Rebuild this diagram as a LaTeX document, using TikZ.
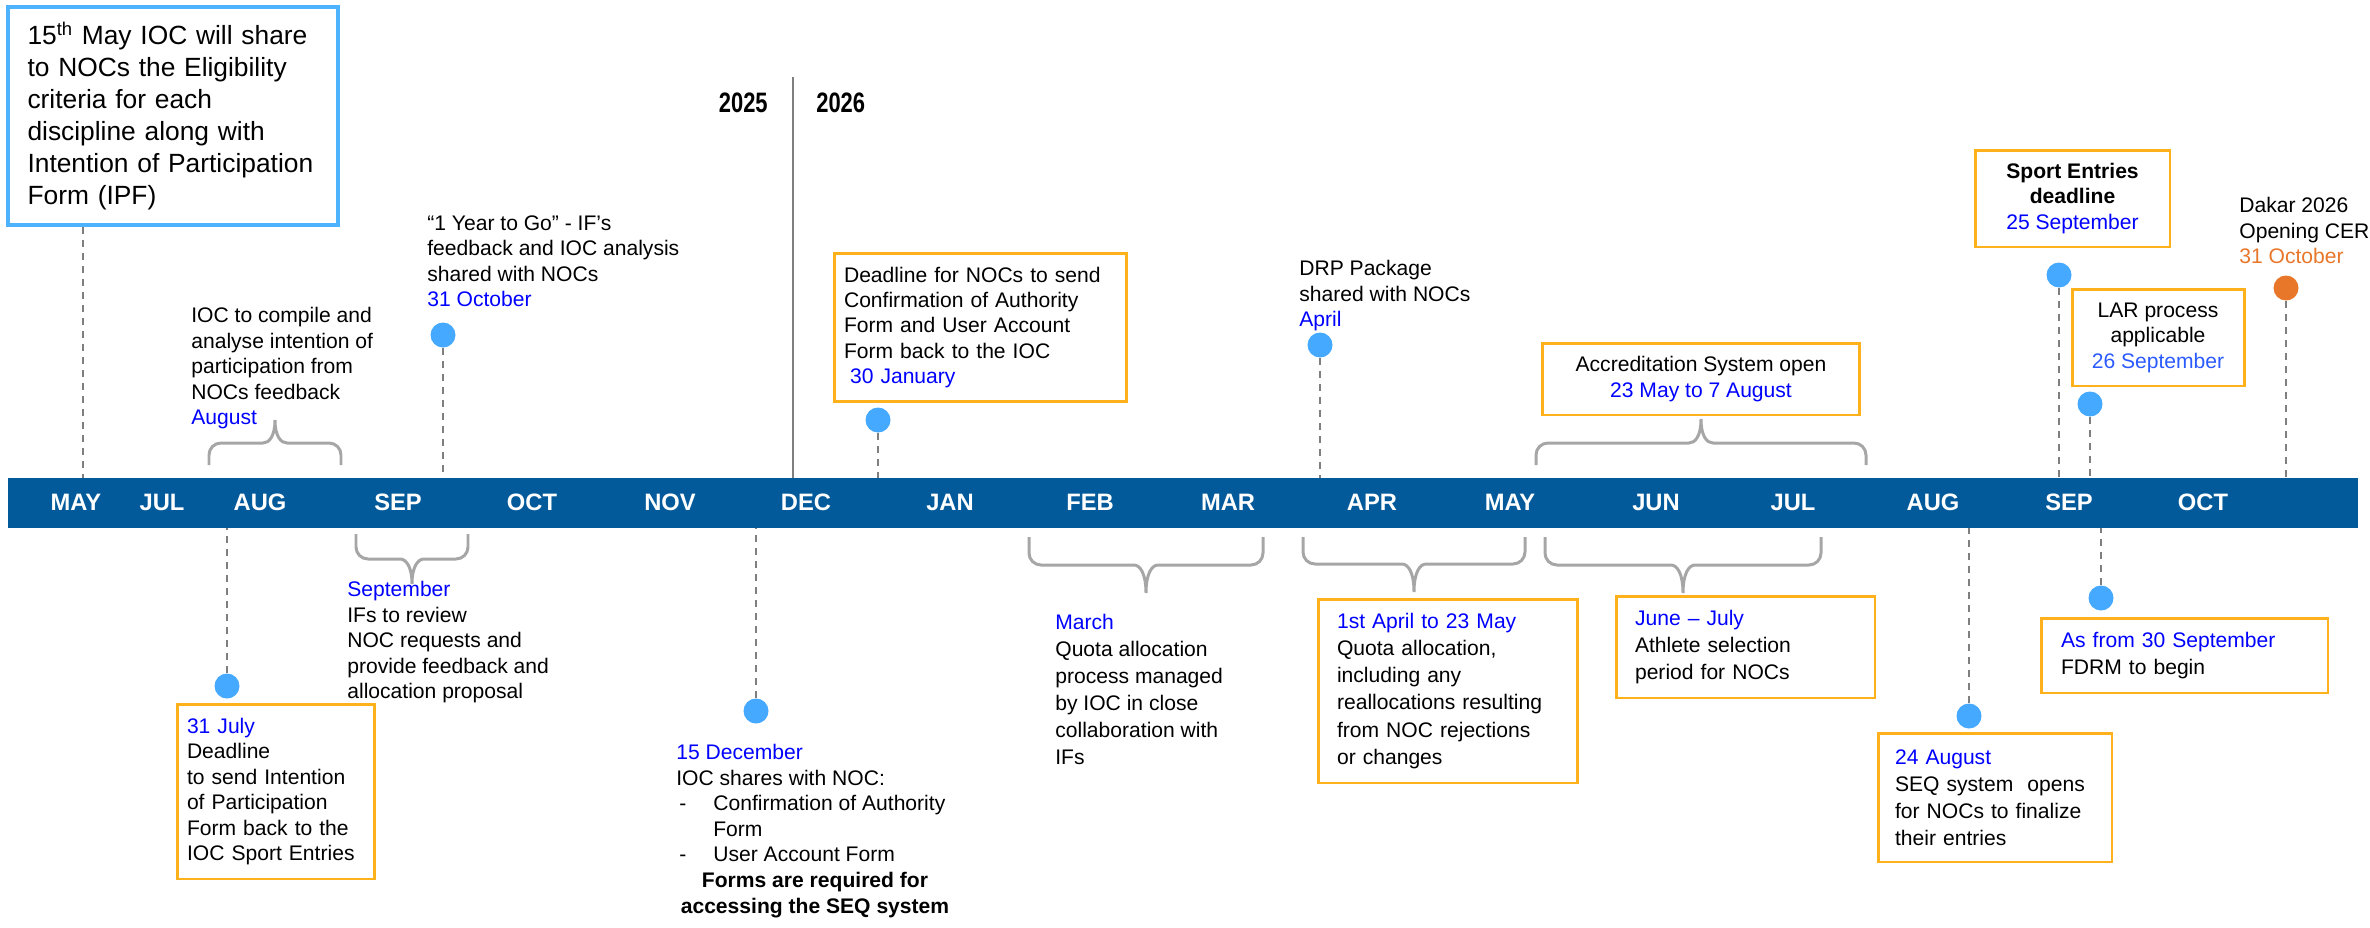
\documentclass[tikz,border=0pt]{standalone}
\usepackage{fontspec}
\setmainfont{Liberation Sans}
\newfontfamily\narrowfont[FakeStretch=0.78]{Liberation Sans}
\usepackage{tikz}
\usetikzlibrary{positioning}

\definecolor{barblue}{HTML}{035A9B}
\definecolor{boxorange}{HTML}{FFB11B}
\definecolor{boxblue}{HTML}{4DB3FF}
\definecolor{dotblue}{HTML}{45A9FF}
\definecolor{dotorange}{HTML}{E8772A}
\definecolor{leadgray}{HTML}{7F7F7F}
\definecolor{bracegray}{HTML}{A6A6A6}
\definecolor{datelar}{HTML}{2B5BFF}

\newcommand{\bodyfont}{\fontsize{12}{14.5}\selectfont}
\newcommand{\loosefont}{\fontsize{12}{15.4}\selectfont}
\newcommand{\datetxt}[1]{\textcolor{blue}{#1}}

% span bracket: half width, offset of the long part, offset of the tip
\tikzset{
  pics/bracket/.style n args={3}{code={
    \draw[bracegray, line width=1.7pt, rounded corners=0.24cm]
      (-#1,0) -- (-#1,#2) -- (-24,#2)
      .. controls (-6,#2) and (0,{1.3*#2}) .. (0,#3)
      (#1,0) -- (#1,#2) -- (24,#2)
      .. controls (6,#2) and (0,{1.3*#2}) .. (0,#3);
  }}
}

\begin{document}
\begin{tikzpicture}[x=0.02cm, y=-0.02cm,
  month/.style={text=white, font=\fontsize{13.5}{16}\selectfont\bfseries, inner sep=0},
  year/.style={font=\narrowfont\fontsize{16}{19}\selectfont\bfseries, inner sep=0},
  note/.style={font=\bodyfont, align=left, inner sep=0, anchor=north west},
  ebox/.style={draw=boxorange, line width=1.7pt, inner sep=0, font=\bodyfont},
  dot/.style={circle, fill=dotblue, minimum size=0.5cm, inner sep=0},
  leader/.style={leadgray, line width=1.1pt, dash pattern=on 4pt off 3.4pt}]

\useasboundingbox (0,0) rectangle (2370,927);

% the time bar
\node[fill=barblue, minimum width=47cm, minimum height=1cm, inner sep=0] (bar) at (1183,503) {};

\node[month] (may25) at (76,502) {MAY};
\node[month] (jul25) at (162,502) {JUL};
\node[month] (aug25) at (260,502) {AUG};
\node[month] (sep25) at (398,502) {SEP};
\node[month] (oct25) at (532,502) {OCT};
\node[month] (nov25) at (670,502) {NOV};
\node[month] (dec25) at (806,502) {DEC};
\node[month] (jan26) at (950,502) {JAN};
\node[month] (feb26) at (1090,502) {FEB};
\node[month] (mar26) at (1228,502) {MAR};
\node[month] (apr26) at (1372,502) {APR};
\node[month] (may26) at (1510,502) {MAY};
\node[month] (jun26) at (1656,502) {JUN};
\node[month] (jul26) at (1793,502) {JUL};
\node[month] (aug26) at (1933,502) {AUG};
\node[month] (sep26) at (2069,502) {SEP};
\node[month] (oct26) at (2203,502) {OCT};

% year split
\coordinate (yeartop) at (793,77);
\draw[leadgray, line width=1pt] (yeartop) -- (yeartop |- bar.north);
\node[year, anchor=base east] (y2025) at (768,112) {2025};
\node[year, anchor=base west] (y2026) at (816,112) {2026};

% above the bar
\node[draw=boxblue, line width=2pt, minimum width=6.6cm, minimum height=4.36cm, text width=5.82cm, align=left, inner sep=0, font=\fontsize{15}{18.2}\selectfont] (ipf) at (173,116)
  {15\textsuperscript{th} May IOC will share\\ to NOCs the Eligibility\\ criteria for each\\ discipline along with\\ Intention of Participation\\ Form (IPF)};
\coordinate (ipfleg) at (83,227);
\draw[leader] (ipfleg) -- (ipfleg |- bar.north);

\node[note] (compile) at (191,307) {IOC to compile and\\ analyse intention of\\ participation from\\ NOCs feedback\\ \datetxt{August}};
\pic (augspan) at (275,465) {bracket={66}{-22}{-45}};

\node[note] (yeartogo) at (427,215) {“1 Year to Go” - IF’s\\ feedback and IOC analysis\\ shared with NOCs\\ \datetxt{31 October}};
\node[dot] (d-oct25) at (443,335) {};
\draw[leader] (d-oct25) -- (d-oct25 |- bar.north);

\node[ebox, minimum width=5.86cm, minimum height=2.98cm, text width=5.46cm, align=left] (authform) at (980.5,327.5)
  {Deadline for NOCs to send\\ Confirmation of Authority\\ Form and User Account\\ Form back to the IOC\\ \hspace*{0.12cm}\datetxt{30 January}};
\node[dot] (d-jan) at (878,420) {};
\draw[leader] (d-jan) -- (d-jan |- bar.north);

\node[note] (drp) at (1299,260) {DRP Package\\ shared with NOCs\\ \datetxt{April}};
\node[dot] (d-apr) at (1320,345) {};
\draw[leader] (d-apr) -- (d-apr |- bar.north);

\node[ebox, minimum width=6.36cm, minimum height=1.44cm, align=center] (accred) at (1701,379) {Accreditation System open\\ \datetxt{23 May to 7 August}};
\pic (accspan) at (1701,465) {bracket={165}{-22}{-46}};

\node[ebox, minimum width=3.9cm, minimum height=1.94cm, align=center] (sportdl) at (2072.5,198.5) {\textbf{Sport Entries}\\ \textbf{deadline}\\ \datetxt{25 September}};
\node[dot] (d-sep25) at (2059,275) {};
\draw[leader] (d-sep25) -- (d-sep25 |- bar.north);

\node[ebox, minimum width=3.44cm, minimum height=1.94cm, align=center] (lar) at (2158,337.5) {LAR process\\ applicable\\ \textcolor{datelar}{26 September}};
\node[dot] (d-sep26) at (2090,404) {};
\draw[leader] (d-sep26) -- (d-sep26 |- bar.north);

\node[note] (dakar) at (2239,197) {Dakar 2026\\ Opening CER\\ \textcolor{dotorange}{31 October}};
\node[dot, fill=dotorange] (d-oct31) at (2286,288) {};
\draw[leader] (d-oct31) -- (d-oct31 |- bar.north);

% below the bar
\node[dot] (d-jul31) at (227,686) {};
\draw[leader] (d-jul31) -- (d-jul31 |- bar.south);
\node[ebox, minimum width=3.96cm, minimum height=3.5cm, text width=3.56cm, align=left] (ipfdl) at (276,791.5)
  {\datetxt{31 July}\\ Deadline\\ to send Intention\\ of Participation\\ Form back to the\\ IOC Sport Entries};

\pic (sepspan) at (412,534) {bracket={56}{25}{50}};
\node[note] (ifreview) at (347,581) {\datetxt{September}\\ IFs to review\\ NOC requests and\\ provide feedback and\\ allocation proposal};

\node[dot] (d-dec15) at (756,711) {};
\draw[leader] (d-dec15) -- (d-dec15 |- bar.south);
\node[note] (dec15) at (676,744) {\datetxt{15 December}\\ IOC shares with NOC:\\ \makebox[0.74cm][l]{\hspace{0.06cm}-}Confirmation of Authority\\ \hspace*{0.74cm}Form\\ \makebox[0.74cm][l]{\hspace{0.06cm}-}User Account Form};
\node[font=\bodyfont\bfseries, align=center, inner sep=0] (seqnote) at (815,895) {Forms are required for\\ accessing the SEQ system};

\pic (marspan) at (1146,537) {bracket={117}{28}{56}};
\node[note, font=\loosefont] (marquota) at (1055,614) {\datetxt{March}\\ Quota allocation\\ process managed\\ by IOC in close\\ collaboration with\\ IFs};

\pic (aprspan) at (1414,537) {bracket={111}{27}{55}};
\node[ebox, font=\loosefont, minimum width=5.2cm, minimum height=3.68cm, text width=4.44cm, align=left] (realloc) at (1448,691)
  {\datetxt{1st April to 23 May}\\ Quota allocation,\\ including any\\ reallocations resulting\\ from NOC rejections\\ or changes};

\pic (jjspan) at (1683,537) {bracket={138}{28}{56}};
\node[ebox, font=\loosefont, minimum width=5.18cm, minimum height=2.04cm, text width=4.42cm, align=left] (athsel) at (1745.5,647)
  {\datetxt{June – July}\\ Athlete selection\\ period for NOCs};

\node[dot] (d-aug24) at (1969,716) {};
\draw[leader] (d-aug24) -- (d-aug24 |- bar.south);
\node[ebox, font=\loosefont, minimum width=4.68cm, minimum height=2.58cm, text width=4.0cm, align=left] (seqopen) at (1995,797.5)
  {\datetxt{24 August}\\ SEQ system\ \ opens\\ for NOCs to finalize\\ their entries};

\node[dot] (d-sep30) at (2101,598) {};
\draw[leader] (d-sep30) -- (d-sep30 |- bar.south);
\node[ebox, font=\loosefont, minimum width=5.74cm, minimum height=1.5cm, text width=4.94cm, align=left] (fdrm) at (2184.5,655.5)
  {\datetxt{As from 30 September}\\ FDRM to begin};

\end{tikzpicture}
\end{document}
